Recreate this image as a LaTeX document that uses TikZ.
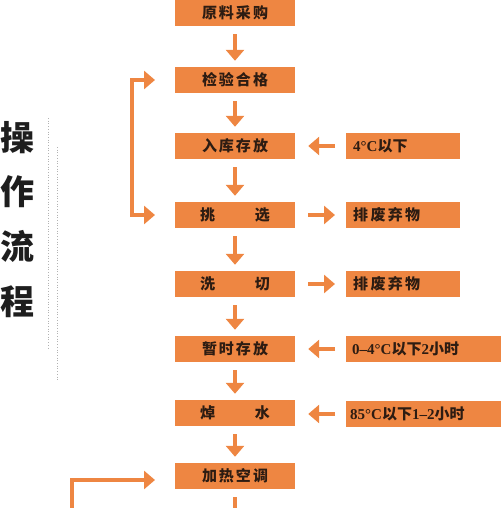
\documentclass[tikz,border=0pt]{standalone}
\usepackage{fontspec}
\setmainfont{Noto Sans CJK SC}
\newfontfamily\lat{Liberation Serif}
\usetikzlibrary{arrows.meta}
\definecolor{orng}{RGB}{238,134,66}
\definecolor{txt}{RGB}{45,28,18}
\definecolor{ttl}{RGB}{30,30,30}
\tikzset{
  box/.style={fill=orng, minimum width=120pt, minimum height=26pt, inner sep=0pt,
    text=txt, font=\bfseries\fontsize{15}{15}\selectfont},
  rbox/.style={fill=orng, minimum height=26pt, inner sep=0pt, anchor=west,
    text=txt, font=\bfseries\fontsize{15}{15}\selectfont},
  arr/.style={draw=orng, line width=4.5pt, -{Triangle[width=18pt,length=11pt]}},
  arr2/.style={draw=orng, line width=4.5pt, {Triangle[width=18pt,length=11pt]}-{Triangle[width=18pt,length=11pt]}},
  dn/.style={arr, shorten <=8pt, shorten >=6pt},
  lft/.style={arr, shorten <=11pt, shorten >=13pt},
  rgt/.style={arr, shorten <=13pt, shorten >=11pt},
  ttlc/.style={text=ttl, font=\bfseries\fontsize{34}{34}\selectfont, inner sep=0pt},
  dotl/.style={draw=gray!60, line width=0.7pt, dotted}
}
\begin{document}
\begin{tikzpicture}[x=1pt,y=-1pt]
\useasboundingbox (0,0) rectangle (500,508);
% title
\node[ttlc] (t1) at (17,138) {操};
\node[ttlc] (t2) at (17,192) {作};
\node[ttlc] (t3) at (17,246) {流};
\node[ttlc] (t4) at (17,302) {程};
\coordinate (d1a) at (48,118);
\coordinate (d1b) at (48,350);
\coordinate (d2a) at (57,147);
\coordinate (d2b) at (57,380);
\draw[dotl] (d1a) -- (d1b);
\draw[dotl] (d2a) -- (d2b);
% main column
\node[box] (b1) at (235,13) {\makebox[66pt][s]{原\hfill{}料\hfill{}采\hfill{}购}};
\node[box] (b2) at (235,80) {\makebox[66pt][s]{检\hfill{}验\hfill{}合\hfill{}格}};
\node[box] (b3) at (235,146) {\makebox[66pt][s]{入\hfill{}库\hfill{}存\hfill{}放}};
\node[box] (b4) at (235,215) {\makebox[70pt][s]{挑\hfill{}选}};
\node[box] (b5) at (235,284) {\makebox[70pt][s]{洗\hfill{}切}};
\node[box] (b6) at (235,349) {\makebox[66pt][s]{暂\hfill{}时\hfill{}存\hfill{}放}};
\node[box] (b7) at (235,413) {\makebox[70pt][s]{焯\hfill{}水}};
\node[box] (b8) at (235,476) {\makebox[66pt][s]{加\hfill{}热\hfill{}空\hfill{}调}};
% right column
\node[rbox, minimum width=114pt, text width=100pt, align=left] (r3) at (346,146) {{\lat 4°C}以下};
\node[rbox, minimum width=114pt, text width=100pt, align=left] (r4) at (346,215) {\makebox[67pt][s]{排\hfill{}废\hfill{}弃\hfill{}物}};
\node[rbox, minimum width=114pt, text width=100pt, align=left] (r5) at (346,284) {\makebox[67pt][s]{排\hfill{}废\hfill{}弃\hfill{}物}};
\node[rbox, minimum width=158pt, text width=146pt, align=left] (r6) at (346,349) {{\lat 0–4°C}以下{\lat 2}小时};
\node[rbox, minimum width=158pt, text width=150pt, align=left] (r7) at (346,414) {{\lat 85°C}以下{\lat 1–2}小时};
% down arrows
\draw[dn] (b1) -- (b2);
\draw[dn] (b2) -- (b3);
\draw[dn] (b3) -- (b4);
\draw[dn] (b4) -- (b5);
\draw[dn] (b5) -- (b6);
\draw[dn] (b6) -- (b7);
\draw[dn] (b7) -- (b8);
\coordinate (bend) at (235,512);
\draw[orng, line width=4.5pt, shorten <=8pt] (b8) -- (bend);
% side arrows
\draw[lft] (r3.west) -- (b3.east);
\draw[rgt] (b4.east) -- (r4.west);
\draw[rgt] (b5.east) -- (r5.west);
\draw[lft] (r6.west) -- (b6.east);
\draw[lft] (r7.west) -- (b7.east |- r7.west);
% feedback loops
\coordinate (fb1) at (155,215);
\coordinate (fb2) at (155,80);
\draw[arr2] (fb1) -- (132,215) -- (132,80) -- (fb2);
\coordinate (lb0) at (72,512);
\coordinate (lb1) at (155,480);
\draw[arr] (lb0) |- (lb1);
\end{tikzpicture}
\end{document}
